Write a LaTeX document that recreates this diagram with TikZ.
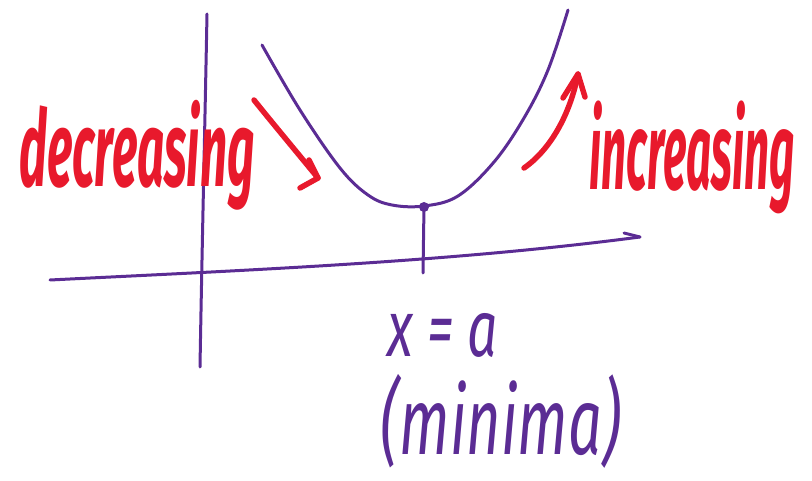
\documentclass[tikz,border=0pt]{standalone}
\usepackage{fontspec}
\setmainfont{Fira Sans}
\usepackage{graphicx}
\definecolor{pen}{HTML}{5B2C94}
\definecolor{ink}{HTML}{E8192C}
\begin{document}
\begin{tikzpicture}[x=1pt,y=-1pt,
  purp/.style={draw=pen,line width=3pt,line cap=round,line join=round},
  redpen/.style={draw=ink,line width=5.5pt,line cap=round,line join=round},
  lbl/.style={inner sep=0pt,anchor=center}]
\useasboundingbox (0,0) rectangle (812,481);
% axes
\coordinate (vt) at (207,14);
\coordinate (vb) at (200,367);
\draw[purp] (vt) .. controls (205,120) and (202,250) .. (vb);
\coordinate (hl) at (50,280);
\coordinate (hr) at (640,237);
\draw[purp] (hl) .. controls (250,270) and (450,262) .. (hr);
\coordinate (hh) at (624,233);
\draw[purp] (hh) -- (hr);
% parabola
\draw[purp] plot[smooth,tension=0.6] coordinates {(262,45) (300,110) (340,168) (368,195) (392,205) (424,206) (458,196) (494,162) (524,118) (548,70) (568,10)};
\node[circle,fill=pen,inner sep=0pt,minimum size=10pt] (dot) at (424,207) {};
\coordinate (tickb) at (423,273);
\draw[purp] (dot.center) -- (tickb);
% red arrows
\coordinate (d1) at (254,100);
\coordinate (d2) at (318,178);
\draw[redpen] (d1) .. controls (270,120) and (295,150) .. (d2);
\coordinate (d3) at (300,188);
\coordinate (d4) at (309,160);
\draw[redpen] (d4) -- (d2) -- (d3);
\coordinate (u1) at (524,168);
\coordinate (u2) at (578,74);
\draw[redpen] (u1) .. controls (550,150) and (570,115) .. (u2);
\coordinate (u3) at (563,98);
\coordinate (u4) at (585,97);
\draw[redpen] (u3) -- (u2) -- (u4);
% texts
\node[lbl,text=ink] (dec) at (137,155) {\resizebox*{235pt}{110pt}{\bfseries\itshape decreasing}};
\node[lbl,text=ink] (inc) at (692,157) {\resizebox*{205pt}{113pt}{\bfseries\itshape increasing}};
\node[lbl,text=pen] (xa) at (443,335) {\resizebox*{110pt}{44pt}{\itshape x = a}};
\node[lbl,text=pen] (min) at (501,421) {\resizebox*{240pt}{94pt}{\itshape (minima)}};
\end{tikzpicture}
\end{document}
